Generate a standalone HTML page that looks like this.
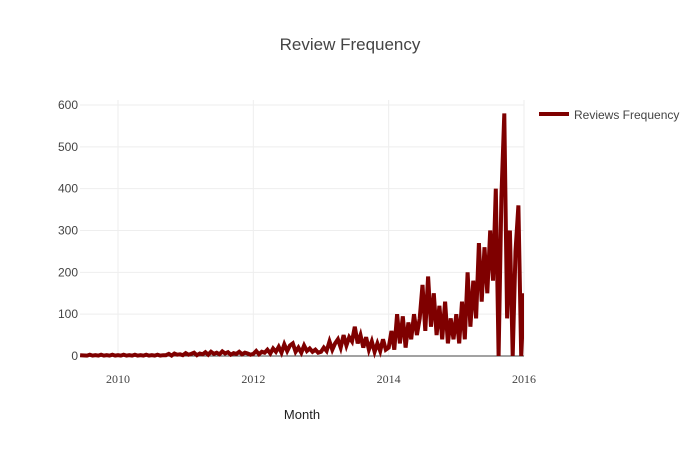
<!DOCTYPE html>
<html><head><meta charset="utf-8"><style>
body{margin:0;background:#fff}
svg{display:block;font-family:"Liberation Sans",sans-serif}
</style></head><body>
<svg id="c" width="700" height="450">
<text x="350" y="50" text-anchor="middle" font-size="17" fill="#444">Review Frequency</text>
<g id="grid"></g>
<g id="plot"></g>
<text x="302" y="419" text-anchor="middle" font-size="13" fill="#222">Month</text>
<g>
<line x1="539" y1="114" x2="569" y2="114" stroke="#7f0000" stroke-width="4"/>
<text x="574" y="119" font-size="12" fill="#444">Reviews Frequency</text>
</g>
</svg>
<script>
const startYear = 2009.5;
const stepYear = 1/24;
const values = [
2,1,3,1,2,1,3,1,2,1,3,1,2,1,3,1,2,1,3,1,2,1,3,1,2,1,3,1,2,
2,5,1,6,3,4,2,7,3,5,8,2,6,4,9,3,10,5,8,4,11,6,9,3,7,5,10,4,8,6,3,
5,12,4,10,8,15,6,18,10,22,8,28,12,25,30,10,20,8,25,12,18,10,15,8,
10,20,12,35,15,30,40,20,50,25,45,35,70,30,50,20,45,15,35,10,30,12,40,15,
20,60,15,100,30,95,20,80,40,100,50,90,
170,60,190,70,150,50,120,40,130,30,90,40,
100,30,130,40,200,70,180,90,270,130,260,150,
300,180,400,0,380,580,90,300,0,250,360,0,150
];
const yTicks = [0,100,200,300,400,500,600];
const xTicks = [2010,2012,2014,2016];
const X0=80,X1=524;
const xs = y => 118 + (y-2010)*(524-118)/6;
const ys = v => 356 - v*(356-105)/600;
const NS='http://www.w3.org/2000/svg';
const grid=document.getElementById('grid'), plot=document.getElementById('plot');
function mk(tag,attrs,parent){const e=document.createElementNS(NS,tag);for(const k in attrs)e.setAttribute(k,attrs[k]);parent.appendChild(e);return e;}
yTicks.forEach(t=>{
  if(t>0){const l=mk('line',{x1:X0,x2:X1,y1:ys(t),y2:ys(t),stroke:'#eee','stroke-width':1},grid);
  
  }
  const tx=mk('text',{x:78,y:ys(t)+4,'text-anchor':'end','font-size':12,fill:'#444'},grid);
  tx.textContent=t;
  
  
});
xTicks.forEach(t=>{
  const l=mk('line',{x1:xs(t),x2:xs(t),y1:100,y2:356,stroke:'#eee','stroke-width':1},grid);
  
  
  const tx=mk('text',{x:xs(t),y:383,'text-anchor':'middle','font-size':12,fill:'#444','font-family':'Liberation Serif, serif'},grid);
  tx.textContent=t;
  
  
});
const zl=mk('line',{x1:X0,x2:X1,y1:ys(0),y2:ys(0),stroke:'#444','stroke-width':1},grid);


const cp=mk('clipPath',{id:'cl'},plot);mk('rect',{x:X0,y:90,width:X1-X0,height:270},cp);
const pts=values.map((v,i)=>{const yr=Math.max(startYear+i*stepYear,2009.45);return (i==0?xs(2009.44):xs(yr)).toFixed(1)+','+ys(v).toFixed(1);});
const pl=mk('polyline',{points:pts.join(' '),fill:'none',stroke:'#7f0000','stroke-width':4,'stroke-linejoin':'miter','clip-path':'url(#cl)'},plot);


</script>
</body></html>
